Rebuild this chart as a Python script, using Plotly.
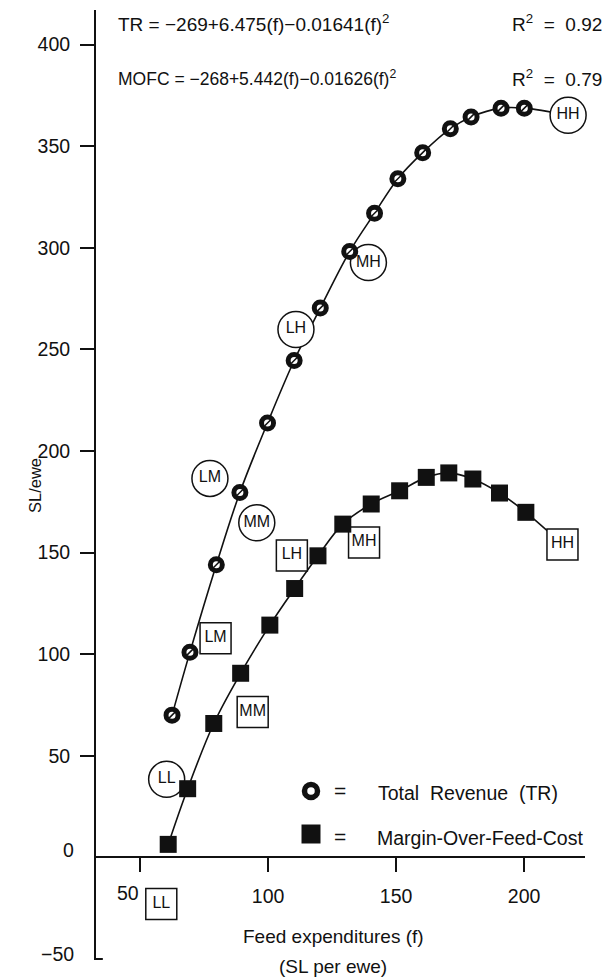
import plotly.graph_objects as go

# ---------------- data ----------------
# Total Revenue (TR), SL/ewe, against feed expenditures (f)
tr_feed = [62.5, 69.5, 79.8, 89.0, 99.8, 110.2, 120.4, 131.9, 141.6, 150.7, 160.4, 171.2, 179.3, 191.0, 200.1]
tr_value = [70.0, 101.0, 144.0, 179.6, 213.8, 244.5, 270.3, 298.2, 317.0, 334.0, 346.8, 358.6, 364.4, 368.7, 368.7]

# Margin-Over-Feed-Cost (MOFC)
mofc_feed = [61.0, 68.6, 78.8, 89.3, 100.7, 110.4, 119.5, 129.2, 140.3, 151.4, 161.8, 170.6, 180.0, 190.4, 200.7]
mofc_value = [6.4, 33.8, 65.9, 90.6, 114.3, 132.3, 148.4, 164.0, 173.9, 180.4, 187.0, 189.2, 186.2, 179.3, 169.8]

# treatment labels (circle = TR, box = MOFC)
combo_labels = ["LL", "LM", "MM", "LH", "MH", "HH"]
tr_label_feed = [60.4, 77.3, 95.6, 110.9, 139.2, 217.2]
tr_label_value = [38.4, 186.5, 164.7, 259.8, 292.7, 365.2]
mofc_label_feed = [58.3, 79.5, 94.0, 109.3, 137.5, 215.0]
mofc_label_value = [-23.0, 107.8, 71.5, 148.6, 155.0, 154.0]

x_ticks = [50, 100, 150, 200]
x_tick_text = ["", "100", "150", "200"]   # "50" is written beside its tick (left of the LL box)
y_ticks = [50, 100, 150, 200, 250, 300, 350, 400]

NB = "\u00a0"
tr_equation = "TR = \u2212269+6.475(f)\u22120.01641(f)<sup>2</sup>"
mofc_equation = "MOFC = \u2212268+5.442(f)\u22120.01626(f)<sup>2</sup>"
tr_r2 = "R<sup>2</sup>" + NB * 2 + "=" + NB * 2 + "0.92"
mofc_r2 = "R<sup>2</sup>" + NB * 2 + "=" + NB * 2 + "0.79"
legend_tr = "Total" + NB * 2 + "Revenue" + NB * 2 + "(TR)"
legend_mofc = "Margin-Over-Feed-Cost"

# ---------------- figure ----------------
FONT = "Liberation Sans, Arial, sans-serif"
INK = "#111111"
W, H = 615, 978
PL, PT, PR, PB = 96, 10, 585, 960      # plot area in page pixels
X_RANGE = [32.8, 223.8]
Y_RANGE = [-50.5, 417.0]


def px(x):
    return (x - PL) / (PR - PL)


def py(y):
    return (PB - y) / (PB - PT)


def to_x(x):
    return X_RANGE[0] + px(x) * (X_RANGE[1] - X_RANGE[0])


def to_y(y):
    return Y_RANGE[0] + py(y) * (Y_RANGE[1] - Y_RANGE[0])


fig = go.Figure()

# curves (run on to the HH label)
fig.add_trace(go.Scatter(
    x=tr_feed + [tr_label_feed[-1]], y=tr_value + [tr_label_value[-1]],
    mode="lines", line=dict(color=INK, width=1.6, shape="spline"),
    hoverinfo="skip", showlegend=False))
fig.add_trace(go.Scatter(
    x=mofc_feed + [mofc_label_feed[-1]], y=mofc_value + [mofc_label_value[-1]],
    mode="lines", line=dict(color=INK, width=1.6, shape="spline"),
    hoverinfo="skip", showlegend=False))

# label circles / boxes
fig.add_trace(go.Scatter(
    x=tr_label_feed, y=tr_label_value, mode="markers+text", text=combo_labels,
    textposition="middle center", textfont=dict(family=FONT, size=16, color=INK),
    marker=dict(symbol="circle", size=36, color="white", line=dict(color=INK, width=1.5)),
    hoverinfo="skip", showlegend=False, cliponaxis=False))
fig.add_trace(go.Scatter(
    x=mofc_label_feed, y=mofc_label_value, mode="markers+text", text=combo_labels,
    textposition="middle center", textfont=dict(family=FONT, size=16, color=INK),
    marker=dict(symbol="square", size=31, color="white", line=dict(color=INK, width=1.5)),
    hoverinfo="skip", showlegend=False, cliponaxis=False))

# data markers
fig.add_trace(go.Scatter(
    x=tr_feed, y=tr_value, mode="markers",
    marker=dict(symbol="circle", size=12, color="white", line=dict(color=INK, width=5)),
    name="TR", showlegend=False))
fig.add_trace(go.Scatter(
    x=tr_feed, y=tr_value, mode="markers",
    marker=dict(symbol="line-ne", size=6, line=dict(color=INK, width=1.5)),
    hoverinfo="skip", showlegend=False))
fig.add_trace(go.Scatter(
    x=mofc_feed, y=mofc_value, mode="markers",
    marker=dict(symbol="square", size=17, color=INK, line=dict(width=0)),
    name="MOFC", showlegend=False))

# legend symbols
fig.add_trace(go.Scatter(
    x=[to_x(311)], y=[to_y(791)], mode="markers",
    marker=dict(symbol="circle", size=13, color="white", line=dict(color=INK, width=5.5)),
    hoverinfo="skip", showlegend=False, cliponaxis=False))
fig.add_trace(go.Scatter(
    x=[to_x(311)], y=[to_y(834)], mode="markers",
    marker=dict(symbol="square", size=19, color=INK, line=dict(width=0)),
    hoverinfo="skip", showlegend=False, cliponaxis=False))

annotations = []


def note(text, x, y, size=17, xanchor="left", **kw):
    annotations.append(dict(text=text, x=px(x), y=py(y), xref="paper", yref="paper",
                            xanchor=xanchor, yanchor="middle", showarrow=False,
                            font=dict(family=FONT, size=size, color=INK), **kw))


# equations
note(tr_equation, 116, 23, size=19)
note(tr_r2, 604, 23, size=19, xanchor="right")
note(mofc_equation, 116, 78, size=17.5)
note(mofc_r2, 604, 78, size=19, xanchor="right")

# legend
note("=", 340, 790, size=21, xanchor="center")
note(legend_tr, 376, 793, size=19.5)
note("=", 340, 836, size=21, xanchor="center")
note(legend_mofc, 375, 838, size=19.5)

# axis titles and extra tick labels
note("SL/ewe", 35, 486, size=16.5, xanchor="center", textangle=-90)
note("Feed expenditures (f)", 333, 936, size=19, xanchor="center")
note("(SL per ewe)", 333, 966, size=19, xanchor="center")
note("0", 76, 850, size=19.5, xanchor="right")
note("\u221250", 76, 954, size=19.5, xanchor="right")
note(str(x_ticks[0]), 141, 893, size=19.5, xanchor="right")

fig.update_layout(annotations=annotations)

# small hook at the foot of the y axis
fig.add_shape(type="line", xref="paper", yref="y", x0=0, x1=0.014, y0=-50, y1=-50,
              line=dict(color=INK, width=2))

zero_pos = (0 - Y_RANGE[0]) / (Y_RANGE[1] - Y_RANGE[0])

fig.update_layout(
    width=W, height=H,
    margin=dict(l=PL, r=W - PR, t=PT, b=H - PB, pad=0),
    paper_bgcolor="white", plot_bgcolor="white",
    font=dict(family=FONT, color=INK),
    showlegend=False,
    xaxis=dict(range=X_RANGE, anchor="free", position=zero_pos,
               showline=True, linecolor=INK, linewidth=2,
               ticks="outside", ticklen=14, tickwidth=1.5, tickcolor=INK,
               tickvals=x_ticks, ticktext=x_tick_text,
               tickfont=dict(family=FONT, size=19.5, color=INK),
               ticklabelstandoff=7,
               showgrid=False, zeroline=False),
    yaxis=dict(range=Y_RANGE, showline=True, linecolor=INK, linewidth=2,
               ticks="outside", ticklen=14, tickwidth=1.5, tickcolor=INK,
               tickvals=y_ticks, ticktext=[str(v) for v in y_ticks],
               tickfont=dict(family=FONT, size=19.5, color=INK),
               ticklabelstandoff=6,
               showgrid=False, zeroline=False),
)

fig.write_html(
    "out.html",
    config={"displayModeBar": False},
    post_script="document.body.style.margin='0px';"
                "document.documentElement.style.overflow='hidden';",
)
